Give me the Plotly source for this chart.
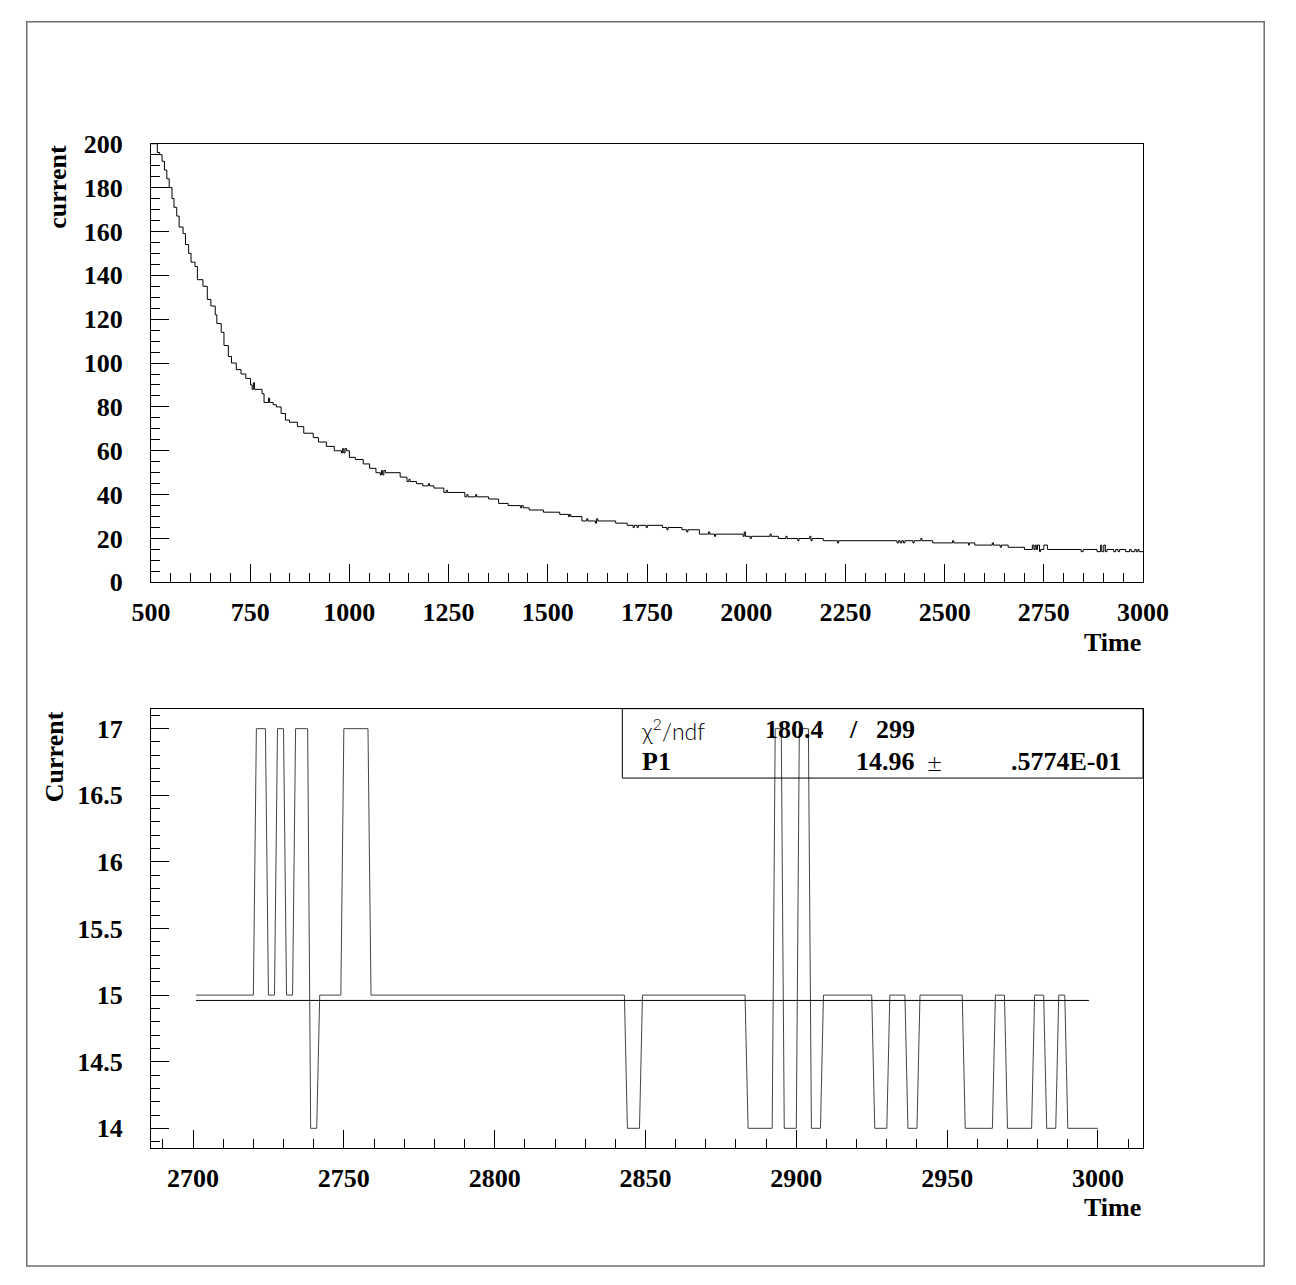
import plotly.graph_objects as go

# ---------------- data ----------------
# Top panel: full "current" series, step knots (time where value changes)
top_time = [500, 516, 522, 528, 534, 540, 546, 553, 558, 565, 571, 581, 587, 595, 601,
            611, 617, 631, 642, 651, 662, 666, 677, 684, 695, 703, 715, 727, 739, 751,
            755, 758, 761, 780, 785, 796, 799, 808, 816, 828, 839, 849, 869, 885, 909,
            922, 942, 962, 980, 983, 986, 989, 993, 1000, 1015, 1035, 1051, 1067, 1078,
            1081, 1084, 1087, 1091, 1128, 1145, 1150, 1153, 1169, 1185, 1199, 1202, 1213,
            1238, 1244, 1247, 1291, 1296, 1299, 1318, 1321, 1351, 1376, 1400, 1431, 1434,
            1438, 1453, 1489, 1530, 1552, 1555, 1558, 1586, 1598, 1601, 1620, 1623, 1626,
            1671, 1700, 1715, 1718, 1725, 1728, 1748, 1751, 1789, 1800, 1803, 1838, 1850,
            1853, 1882, 1905, 1908, 1920, 1923, 1967, 1992, 1995, 1998, 2010, 2013, 2060,
            2063, 2081, 2100, 2103, 2130, 2133, 2160, 2163, 2166, 2194, 2230, 2233, 2380,
            2384, 2388, 2392, 2396, 2400, 2420, 2423, 2440, 2443, 2470, 2520, 2523, 2560,
            2562, 2576, 2620, 2623, 2640, 2643, 2660]
top_current = [200, 196, 195, 192, 188, 184, 180, 175, 171, 167, 162, 159, 154, 150, 146,
               144, 138, 135, 129, 126, 122, 118, 114, 108, 103, 100, 97, 95, 93, 90,
               88, 91, 88, 86, 82, 84, 82, 81, 80, 77, 74, 73, 71, 68, 66,
               64, 62, 60, 59, 61, 59, 61, 60, 57, 56, 54, 52, 50, 49,
               51, 49, 51, 50, 48, 46, 47, 46, 45, 44, 45, 44, 43,
               41, 42, 41, 39, 40, 39, 40, 39, 38, 36, 35, 34, 35,
               34, 33, 32, 31, 30, 31, 30, 28, 29, 28, 27, 29, 28,
               27, 26, 25, 26, 25, 26, 25, 26, 25, 24, 25, 24, 23,
               24, 22, 23, 22, 21, 22, 22, 21, 23, 21, 20, 21, 22,
               21, 20, 21, 20, 19, 20, 21, 19, 20, 19, 18, 19, 18,
               19, 18, 19, 18, 19, 18, 19, 20, 19, 18, 19, 18, 17,
               18, 17, 18, 17, 16, 17, 16]

# Bottom panel: last 300 time values (runs of constant current)
bot_run_start = [2701, 2721, 2725, 2728, 2731, 2734, 2739, 2742, 2750, 2759, 2844, 2849,
                 2884, 2893, 2896, 2901, 2905, 2909, 2926, 2931, 2937, 2941, 2956, 2966,
                 2970, 2979, 2983, 2987, 2990]
bot_run_end = [2720, 2724, 2727, 2730, 2733, 2738, 2741, 2749, 2758, 2843, 2848, 2883,
               2892, 2895, 2900, 2904, 2908, 2925, 2930, 2936, 2940, 2955, 2965, 2969,
               2978, 2982, 2986, 2989, 3000]
bot_run_current = [15, 17, 15, 17, 15, 17, 14, 15, 17, 15, 14, 15,
                   14, 17, 14, 17, 14, 15, 14, 15, 14, 15, 14, 15,
                   14, 15, 14, 15, 14]

# Fit result
fit_p1 = 14.96
fit_p1_err_text = ".5774E-01"
fit_time_range = [2701, 2997]
chi2_text, ndf_text = "180.4", "299"

# ---------------- helpers ----------------
W, H = 1296, 1285


def px(x):
    return x / W


def py(y):
    return 1 - y / H


# bottom polyline (vertex at each run boundary)
bot_x, bot_y = [], []
for s, e, v in zip(bot_run_start, bot_run_end, bot_run_current):
    bot_x += [s, e]
    bot_y += [v, v]

# top step series = early knots + the last-300 runs
top_x = top_time + bot_run_start + [bot_run_end[-1]]
top_y = top_current + bot_run_current + [bot_run_current[-1]]

BOLD = dict(family="Liberation Serif", size=26, color="black", weight="bold")
LIGHT = dict(family="Lato, Open Sans, DejaVu Sans", size=23, color="black", weight=300)

fig = go.Figure()
fig.add_trace(go.Scatter(x=top_x, y=top_y, mode="lines",
                         line=dict(shape="hv", color="black", width=1),
                         xaxis="x", yaxis="y", showlegend=False, hoverinfo="skip"))
fig.add_trace(go.Scatter(x=bot_x, y=bot_y, mode="lines",
                         line=dict(color="#444444", width=1),
                         xaxis="x2", yaxis="y2", showlegend=False, hoverinfo="skip"))
fig.add_trace(go.Scatter(x=fit_time_range, y=[fit_p1, fit_p1], mode="lines",
                         line=dict(color="black", width=1),
                         xaxis="x2", yaxis="y2", showlegend=False, hoverinfo="skip"))

axis_common = dict(showline=True, linecolor="black", linewidth=1, mirror=True,
                   ticks="inside", tickcolor="black", tickwidth=1, ticklen=18,
                   showgrid=False, zeroline=False, tickfont=BOLD)

XDOM = [px(136.7), px(1164.5)]
fig.update_layout(
    autosize=True, margin=dict(l=0, r=0, t=0, b=0),
    paper_bgcolor="white", plot_bgcolor="white", showlegend=False,
    xaxis=dict(axis_common, domain=XDOM, range=[500, 3000], tick0=500, dtick=250,
               anchor="y", ticklabelstandoff=6,
               minor=dict(dtick=50, ticklen=9, ticks="inside", tickcolor="black")),
    yaxis=dict(axis_common, domain=[py(581.5), py(132.7)], range=[0, 200], tick0=0,
               dtick=20, anchor="x", ticklabelstandoff=22,
               minor=dict(dtick=5, ticklen=9, ticks="inside", tickcolor="black")),
    xaxis2=dict(axis_common, domain=XDOM, range=[2686.05, 3014.95], tick0=2700,
                dtick=50, anchor="y2", ticklabelstandoff=6,
                minor=dict(dtick=10, ticklen=9, ticks="inside", tickcolor="black")),
    yaxis2=dict(axis_common, domain=[py(1160.5), py(710.7)], range=[13.85, 17.15],
                tick0=14, dtick=0.5, anchor="x2", ticklabelstandoff=22,
                minor=dict(dtick=0.1, ticklen=9, ticks="inside", tickcolor="black")),
)

shapes = [
    # outer frame
    dict(type="rect", xref="paper", yref="paper", x0=px(8), x1=px(1290),
         y0=py(1281), y1=py(8), line=dict(color="#6e6e6e", width=1.5)),
    # stats box
    dict(type="rect", xref="paper", yref="paper", x0=px(625), x1=px(1164.5),
         y0=py(781.7), y1=py(710.7), line=dict(color="black", width=1)),
]
fig.update_layout(shapes=shapes)


def ann(text, x, y, xanchor="left", yanchor="middle", font=BOLD, angle=0):
    return dict(text=text, x=px(x), y=py(y), xref="paper", yref="paper",
                xanchor=xanchor, yanchor=yanchor, showarrow=False, font=font,
                textangle=angle)


annotations = [
    ann("current", 39, 132, xanchor="center", yanchor="top", angle=-90),
    ann("Current", 37, 711, xanchor="center", yanchor="top", angle=-90),
    ann("Time", 1164.5, 643, xanchor="right"),
    ann("Time", 1164.5, 1221, xanchor="right"),
    ann("χ<sup>2</sup>/ndf", 642, 732, font=LIGHT),
    ann(chi2_text, 836, 732, xanchor="right"),
    ann("/", 864, 732, xanchor="center"),
    ann(ndf_text, 930, 732, xanchor="right"),
    ann("P1", 643, 765),
    ann(f"{fit_p1:.2f}", 930, 765, xanchor="right"),
    ann("±", 948, 765, xanchor="center", font=dict(LIGHT, size=26)),
    ann(fit_p1_err_text, 1145, 765, xanchor="right"),
]
fig.update_layout(annotations=annotations)

POST = (
    "var gd=document.getElementById('{plot_id}');"
    "document.documentElement.style.margin='0';"
    "document.body.style.margin='0';"
    "document.documentElement.style.overflow='hidden';"
    "document.body.style.overflow='hidden';"
    "gd.style.width='100vw';gd.style.height='100vh';"
    "Plotly.Plots.resize(gd);"
)
fig.write_html("out.html", config={"displayModeBar": False, "responsive": True},
               default_width="100vw", default_height="100vh", post_script=POST)
